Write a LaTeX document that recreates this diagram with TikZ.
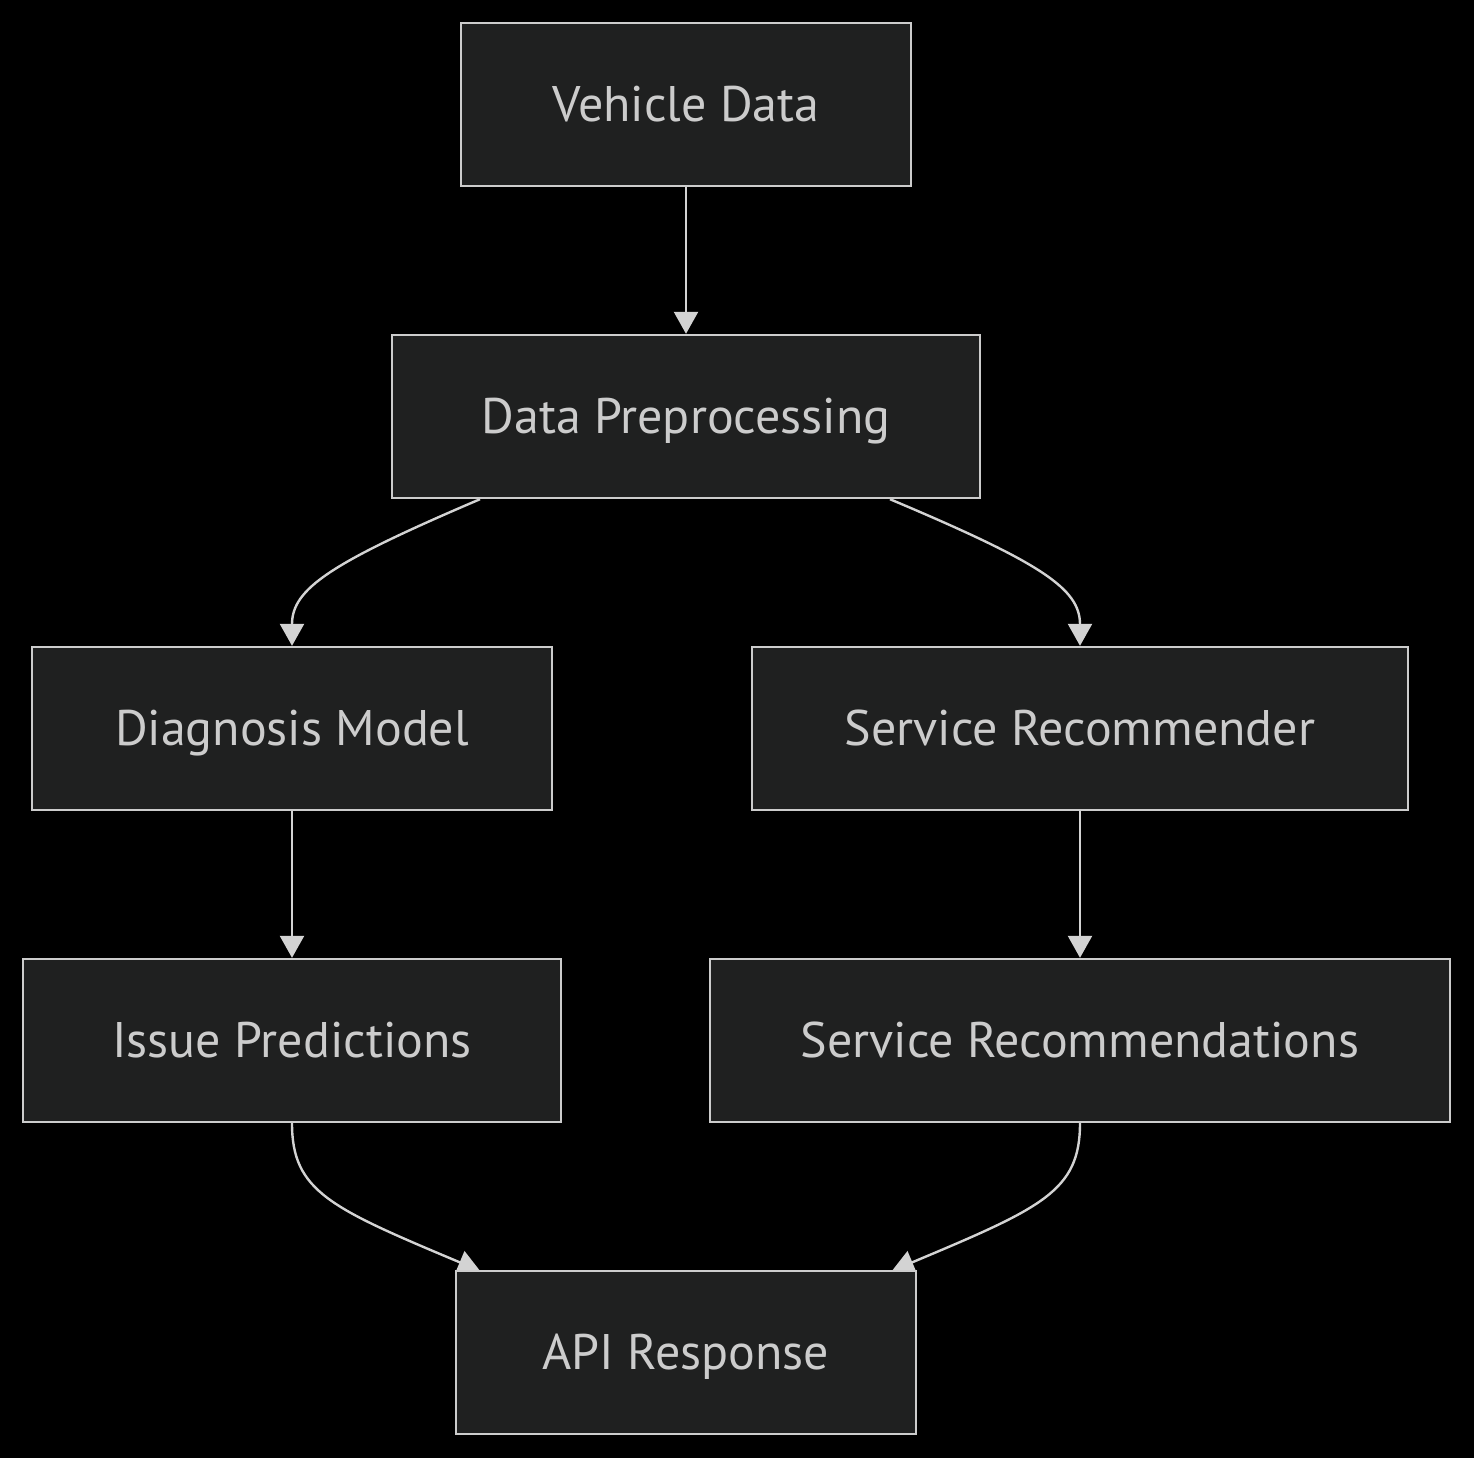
\documentclass[tikz,border=0pt]{standalone}
\usepackage{fontspec}
\setmainfont{PT Sans}
\usetikzlibrary{arrows.meta,calc,backgrounds}
\definecolor{bg}{HTML}{000000}
\definecolor{boxfill}{HTML}{1F2020}
\definecolor{boxline}{HTML}{CCCCCC}
\definecolor{txt}{HTML}{CCCCCC}
\definecolor{edge}{HTML}{D3D3D3}
\tikzset{
  box/.style={draw=boxline, fill=boxfill, line width=1.2pt, text=txt,
    minimum height=81.5pt, inner sep=0pt, text height=17pt, text depth=0pt,
    font=\fontsize{25}{29}\selectfont},
  flow/.style={draw=edge, line width=1.2pt,
    -{Triangle[width=12pt,length=11pt,fill=edge]}},
}
\begin{document}
\begin{tikzpicture}[x=0.5pt,y=-0.5pt]
\useasboundingbox (0,0) rectangle (1474,1458);
\node[box, minimum width=225pt] (vd) at (686,104.5) {Vehicle Data};
\node[box, minimum width=294pt] (dp) at (686,416.5) {Data Preprocessing};
\node[box, minimum width=260pt] (dm) at (292,728.5) {Diagnosis Model};
\node[box, minimum width=328pt] (sr) at (1080,728.5) {Service Recommender};
\node[box, minimum width=269pt] (ip) at (292,1040.5) {Issue Predictions};
\node[box, minimum width=370pt] (srs) at (1080,1040.5) {Service Recommendations};
\node[box, minimum width=230pt] (api) at (686,1352.5) {API Response};
\begin{scope}[on background layer]
\fill[bg] (0,0) rectangle (1474,1458);
\draw[flow] (vd.south) -- (dp.north);
\draw[flow] ($(dp.south)+(-206,0)$) .. controls ($(dp.south)+(-356,64)$) and ($(dm.north)+(0,-57)$) .. (dm.north);
\draw[flow] ($(dp.south)+(204,0)$) .. controls ($(dp.south)+(356,64)$) and ($(sr.north)+(0,-57)$) .. (sr.north);
\draw[flow] (dm.south) -- (ip.north);
\draw[flow] (sr.south) -- (srs.north);
\draw[flow] (ip.south) .. controls ($(ip.south)+(0,68)$) and ($(api.north)+(-356,-62)$) .. ($(api.north)+(-206,1)$);
\draw[flow] (srs.south) .. controls ($(srs.south)+(0,68)$) and ($(api.north)+(356,-62)$) .. ($(api.north)+(206,1)$);
\end{scope}
\end{tikzpicture}
\end{document}
